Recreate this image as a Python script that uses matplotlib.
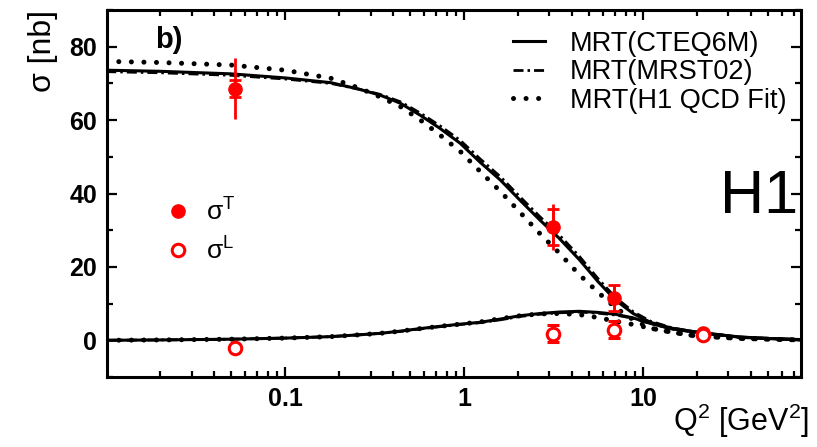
import numpy as np
import matplotlib
matplotlib.use('Agg')
import matplotlib.pyplot as plt
from matplotlib.lines import Line2D
from matplotlib.ticker import MultipleLocator, LogLocator, NullFormatter

plt.rcParams['font.family'] = ['Liberation Sans', 'DejaVu Sans']
plt.rcParams['mathtext.fontset'] = 'custom'
plt.rcParams['mathtext.rm'] = 'Liberation Sans'
plt.rcParams['mathtext.it'] = 'Liberation Sans:italic'
plt.rcParams['mathtext.bf'] = 'Liberation Sans:bold'

q2_curve = [0.01, 0.02, 0.05, 0.1, 0.18, 0.26, 0.34, 0.44, 0.57, 0.73, 0.95, 1.23, 1.6,
            2.06, 2.66, 3.4, 4.4, 5.6, 7.0, 8.8, 11, 14.5, 19, 25, 35, 50, 76]

# sigma_T predictions
sigT_cteq = [73.6, 73.3, 72.6, 71.5, 70.2, 68.4, 66.8, 64.6, 61.3, 57.8, 53.7, 48.5, 43.6,
             38.1, 32.7, 27.8, 22.0, 16.0, 11.0, 7.3, 4.9, 3.3, 2.4, 1.7, 0.8, 0.5, 0.1]
sigT_mrst = [73.2, 72.9, 72.2, 71.2, 70.0, 68.4, 67.0, 65.0, 61.9, 58.5, 54.5, 49.4, 44.5,
             39.0, 33.6, 28.7, 22.9, 16.8, 11.7, 7.8, 5.2, 3.4, 2.4, 1.7, 0.8, 0.5, 0.1]
sigT_h1 = [76.0, 75.7, 75.0, 73.6, 71.4, 68.7, 66.3, 63.7, 60.0, 56.0, 51.5, 46.0, 40.5,
           34.8, 29.0, 23.8, 17.9, 13.1, 8.9, 5.6, 3.3, 2.2, 1.3, 0.9, 0.5, 0.3, 0.1]

# sigma_L predictions
sigL_cteq = [0.0, 0.1, 0.3, 0.6, 1.0, 1.5, 1.9, 2.5, 3.2, 3.8, 4.4, 4.9, 5.8,
             6.7, 7.3, 7.7, 7.9, 7.6, 7.1, 6.1, 4.6, 3.1, 2.3, 1.6, 0.9, 0.5, 0.2]
sigL_mrst = [0.0, 0.1, 0.3, 0.6, 1.0, 1.5, 1.9, 2.4, 3.1, 3.7, 4.3, 4.8, 5.6,
             6.5, 7.1, 7.5, 7.7, 7.4, 6.9, 6.0, 4.6, 3.1, 2.3, 1.6, 0.9, 0.5, 0.2]
sigL_h1 = [0.0, 0.1, 0.3, 0.6, 1.0, 1.5, 1.9, 2.5, 3.2, 3.8, 4.4, 5.0, 5.9,
           6.7, 7.2, 7.3, 7.0, 6.2, 5.2, 4.3, 3.3, 2.2, 1.3, 0.9, 0.5, 0.3, 0.1]

# H1 measurements
q2_data = [0.0526, 3.13, 6.89, 21.7]
sigT = [68.6, 30.9, 11.6, 2.0]
sigT_stat = [2.2, 5.0, 3.6, 0.5]
sigT_tot = [8.2, 6.2, 3.6, 0.8]
sigL = [-2.2, 1.8, 2.9, 1.4]
sigL_err = [0.0, 2.3, 2.3, 0.5]

fig = plt.figure(figsize=(8.17, 4.47), dpi=100)
ax = fig.add_axes([0.131, 0.1566, 0.849, 0.821])

dashdot = (0, (3.6, 1.45, 0.9, 1.45))
dotted = (0, (0.01, 2.5))

for yc, yd, yh in [(sigT_cteq, sigT_mrst, sigT_h1), (sigL_cteq, sigL_mrst, sigL_h1)]:
    ax.plot(q2_curve, yc, '-', color='black', lw=2.2)
    ax.plot(q2_curve, yd, color='black', lw=2.0, linestyle=dashdot)
    ax.plot(q2_curve, yh, color='black', lw=3.6, linestyle=dotted, dash_capstyle='round')

red = '#ff0000'
# sigma_T: total error as a line, statistical error with cross bars
ax.errorbar(q2_data, sigT, yerr=sigT_tot, fmt='none', ecolor=red, elinewidth=2, capsize=0, zorder=5)
ax.errorbar(q2_data, sigT, yerr=sigT_stat, fmt='o', color=red, ms=9.5, elinewidth=2,
            capsize=4.5, capthick=2, zorder=6)
# sigma_L
ax.errorbar(q2_data, sigL, yerr=sigL_err, fmt='o', color=red, mfc='white', mec=red, ms=9,
            mew=2.2, elinewidth=2, capsize=4.5, capthick=2, zorder=6)

ax.set_xscale('log')
ax.set_xlim(0.0101, 76)
ax.set_ylim(-10, 90)
ax.set_xticks([0.1, 1, 10])
ax.set_xticklabels(['0.1', '1', '10'])
ax.xaxis.set_minor_locator(LogLocator(base=10, subs=np.arange(2, 10)))
ax.xaxis.set_minor_formatter(NullFormatter())
ax.yaxis.set_major_locator(MultipleLocator(20))
ax.yaxis.set_minor_locator(MultipleLocator(10))

ax.tick_params(which='both', direction='in', top=True, right=True, width=1.6)
ax.tick_params(which='major', length=7.5, labelsize=18, pad=7)
ax.tick_params(which='minor', length=4)
for lab in ax.get_xticklabels() + ax.get_yticklabels():
    lab.set_fontweight('bold')
for sp in ax.spines.values():
    sp.set_linewidth(2.2)

ax.set_ylabel('σ [nb]', fontsize=23, loc='top', labelpad=8)
ax.set_xlabel(r'Q$^2$ [GeV$^2$]', fontsize=22, ha='right')
ax.xaxis.set_label_coords(1.012, -0.068)

ax.text(0.069, 0.918, 'b)', transform=ax.transAxes, fontsize=21, fontweight='bold',
        ha='left', va='center')
ax.text(0.94, 0.447, 'H1', transform=ax.transAxes, fontsize=44, ha='center', va='baseline')

h_lines = [Line2D([], [], color='black', lw=2.2),
           Line2D([], [], color='black', lw=2.0, linestyle=dashdot),
           Line2D([], [], color='black', lw=3.6, linestyle=dotted, dash_capstyle='round')]
leg1 = ax.legend(h_lines, ['MRT(CTEQ6M)', 'MRT(MRST02)', 'MRT(H1 QCD Fit)'],
                 loc='upper left', bbox_to_anchor=(0.585, 0.943), frameon=False,
                 fontsize=19.5, handlelength=1.18, handletextpad=0.93, labelspacing=0.09,
                 borderpad=0, borderaxespad=0)
ax.add_artist(leg1)

h_pts = [Line2D([], [], ls='none', marker='o', color=red, ms=9.5),
         Line2D([], [], ls='none', marker='o', mfc='white', mec=red, mew=2.2, ms=9)]
ax.legend(h_pts, [r'$\mathregular{\sigma^T}$', r'$\mathregular{\sigma^L}$'],
          loc='upper left', bbox_to_anchor=(0.085, 0.487), frameon=False, fontsize=19,
          handlelength=0.9, handletextpad=0.6, labelspacing=0.45, borderpad=0, borderaxespad=0)

fig.savefig('out.png', dpi=100)
